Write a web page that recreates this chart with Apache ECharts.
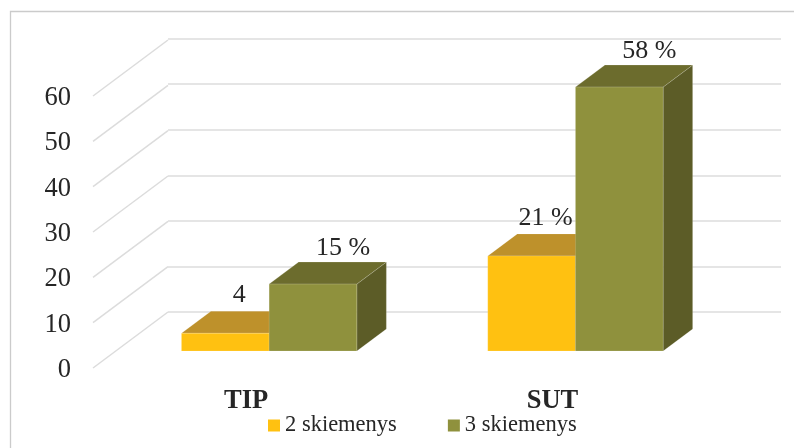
<!DOCTYPE html>
<html>
<head>
<meta charset="utf-8">
<style>
  html, body { margin: 0; padding: 0; background: #fff; }
  #chart { width: 794px; height: 448px; }
</style>
<script src="https://cdn.jsdelivr.net/npm/echarts@6/dist/echarts.min.js"></script>
</head>
<body>
<div id="chart"></div>
<script>
const categories = ['TIP', 'SUT']
const yTicks = [0, 10, 20, 30, 40, 50, 60]
const values2 = [3.9, 20.9]
const values3 = [14.7, 58]
const labels2 = ['4', '21 %']
const labels3 = ['15 %', '58 %']

const serif = '"Liberation Serif", "Times New Roman", serif'
const textColor = '#262626'
const gridColor = '#DCDCDC'

// the three planes of the fake 3D box: front floor edge, back wall, bar fronts
const FRONT = 0, WALL = 1, BARS = 2
const wallDepth = [75, -56]
const barDepth = [29.5, -22]
const barRatio = 87.7 / 306.3

function barSeries(name, values, labels, side, colors, labelDx, labelDy) {
  return {
    name,
    type: 'custom',
    xAxisIndex: BARS,
    yAxisIndex: BARS,
    itemStyle: { color: colors.front },
    data: values.map((v, i) => [categories[i], v]),
    renderItem(params, api) {
      const top = api.coord([api.value(0), api.value(1)])
      const base = api.coord([api.value(0), 0])
      const w = api.size([1, 0])[0] * barRatio
      const x0 = top[0] + side * w
      const x1 = x0 + w
      const [dx, dy] = barDepth
      const edge = { stroke: 'rgba(255,255,255,0.25)', lineWidth: 0.6 }
      return {
        type: 'group',
        children: [
          { type: 'polygon', shape: { points: [[x1, top[1]], [x1 + dx, top[1] + dy], [x1 + dx, base[1] + dy], [x1, base[1]]] }, style: { fill: colors.side, ...edge } },
          { type: 'polygon', shape: { points: [[x0, top[1]], [x0 + dx, top[1] + dy], [x1 + dx, top[1] + dy], [x1, top[1]]] }, style: { fill: colors.top, ...edge } },
          { type: 'rect', shape: { x: x0, y: top[1], width: w, height: base[1] - top[1] }, style: { fill: colors.front, ...edge } },
          {
            type: 'text',
            style: {
              x: x0 + w / 2 + labelDx,
              y: top[1] - labelDy,
              text: labels[params.dataIndex],
              fill: textColor,
              font: '26px ' + serif,
              align: 'center',
              verticalAlign: 'middle',
            },
          },
        ],
      }
    },
  }
}

const chart = echarts.init(document.getElementById('chart'))
chart.setOption({
  animation: false,
  backgroundColor: '#fff',
  graphic: [{
    type: 'rect',
    silent: true,
    shape: { x: 10.5, y: 11.5, width: 800, height: 450 },
    style: { fill: 'none', stroke: '#CBCBCB', lineWidth: 1.3 },
  }],
  legend: {
    data: ['2 skiemenys', '3 skiemenys'],
    left: 263,
    top: 409,
    icon: 'rect',
    itemWidth: 12,
    itemHeight: 12,
    itemGap: 51,
    selectedMode: false,
    textStyle: { fontFamily: serif, fontSize: 22.5, color: textColor },
  },
  grid: [
    { left: 93, width: 612.6, top: 96, height: 272 },
    { left: 168, width: 613, top: 38.7, height: 273.3 },
    { left: 116, width: 612.6, top: 78, height: 273 },
  ],
  xAxis: [
    {
      gridIndex: FRONT,
      type: 'category',
      data: categories,
      axisLine: { show: false },
      axisTick: { show: false },
      axisLabel: { margin: 20, fontFamily: serif, fontSize: 26.5, fontWeight: 'bold', color: textColor },
    },
    { gridIndex: WALL, type: 'category', data: categories, show: false },
    { gridIndex: BARS, type: 'category', data: categories, show: false },
  ],
  yAxis: [
    {
      gridIndex: FRONT,
      type: 'value',
      min: 0,
      max: 60,
      interval: 10,
      axisLine: { show: false },
      axisTick: { show: false },
      splitLine: { show: false },
      axisLabel: { margin: 22, verticalAlign: 'top', lineHeight: 4, fontFamily: serif, fontSize: 26.5, color: textColor },
    },
    {
      gridIndex: WALL,
      type: 'value',
      min: 0,
      max: 60,
      interval: 10,
      axisLine: { show: false },
      axisTick: { show: false },
      axisLabel: { show: false },
      splitLine: { show: true, lineStyle: { color: gridColor, width: 1.5 } },
    },
    { gridIndex: BARS, type: 'value', min: 0, max: 60, interval: 10, show: false },
  ],
  series: [
    {
      // receding gridlines on the left side wall
      name: 'wall',
      type: 'custom',
      silent: true,
      xAxisIndex: FRONT,
      yAxisIndex: FRONT,
      data: yTicks.map(t => [categories[0], t]),
      renderItem(params, api) {
        const y = api.coord([api.value(0), api.value(1)])[1]
        const x = params.coordSys.x
        return {
          type: 'line',
          shape: { x1: x, y1: y, x2: x + wallDepth[0], y2: y + wallDepth[1] },
          style: { stroke: gridColor, lineWidth: 1.5 },
        }
      },
    },
    barSeries('2 skiemenys', values2, labels2, -1, { front: '#FFC111', top: '#BE912B', side: '#8F6F1A' }, 14, 38),
    barSeries('3 skiemenys', values3, labels3, 0, { front: '#8F913D', top: '#6C6C2D', side: '#5C5C27' }, 30, 36),
  ],
})
</script>
</body>
</html>
